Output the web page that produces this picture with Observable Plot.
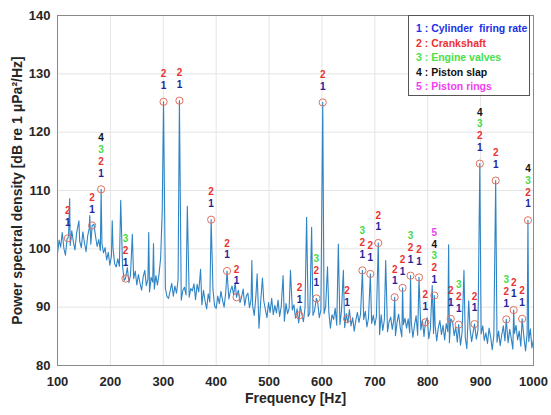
<!DOCTYPE html>
<html>
<head>
<meta charset="utf-8">
<script src="https://cdn.jsdelivr.net/npm/d3@7"></script>
<script src="https://cdn.jsdelivr.net/npm/@observablehq/plot@0.6"></script>
<style>
  body { margin: 0; background: #fff; }
  #wrap { position: relative; width: 551px; height: 415px; font-family: "Liberation Sans", Arial, sans-serif; }
  #legend { position: absolute; left: 408px; top: 15px; width: 122px; height: 81px; border: 1px solid #555; background: #fff;
            font-weight: bold; font-size: 10.5px; line-height: 14.6px; padding: 5px 0 0 7px; box-sizing: border-box; white-space: pre; }
</style>
</head>
<body>
<div id="wrap"></div>
<script>
// ---- data ----
const freqStart = 100, freqStep = 3;
const psd = [
  99.2, 101.5, 100.3, 102.8, 100.1, 98.9, 101.7, 102.4, 100.6, 103.1,
  101.2, 99.8, 102.6, 104.1, 101.3, 100.2, 102.9, 101.0, 99.5, 102.2,
  103.5, 100.8, 101.9, 104.2, 102.1, 100.4, 101.6, 99.7, 100.9, 99.3,
  100.2, 98.1, 99.4, 97.2, 98.8, 100.1, 97.5, 96.9, 98.3, 97.0,
  95.8, 97.1, 94.6, 95.9, 96.8, 94.2, 95.5, 97.3, 94.9, 96.2,
  93.8, 95.6, 94.1, 92.9, 95.2, 96.3, 93.7, 94.8, 92.6, 95.1,
  94.3, 93.1, 95.4, 93.8, 95.7, 98.4, 106.5, 96.0, 93.2, 91.8,
  91.5, 92.8, 94.1, 91.9, 93.6, 92.4, 94.7, 93.0, 91.2, 92.9,
  93.4, 92.1, 94.5, 91.7, 93.2, 92.8, 94.0, 91.3, 93.9, 92.6,
  91.8, 90.4, 92.9, 91.1, 89.7, 92.3, 90.9, 91.6, 93.0, 90.2,
  89.8, 91.9, 90.6, 92.7, 91.2, 90.0, 92.4, 93.5, 91.4, 92.8,
  93.6, 92.1, 94.2, 91.5, 92.9, 90.8, 91.7, 93.1, 90.3, 91.9,
  92.4, 89.9, 91.3, 90.2, 88.6, 91.8, 89.5, 86.4, 90.7, 89.3,
  91.1, 89.6, 88.2, 90.8, 89.1, 91.5, 88.7, 90.3, 89.0, 91.2,
  88.4, 90.1, 89.3, 87.6, 90.6, 88.9, 89.8, 87.2, 89.5, 90.4,
  88.1, 89.7, 87.3, 90.2, 88.8, 87.5, 89.9, 91.2, 88.4, 89.0,
  90.3, 88.6, 89.4, 87.9, 90.8, 88.2, 89.5, 87.1, 88.9, 90.1,
  87.6, 89.2, 86.4, 88.7, 87.9, 89.8, 86.9, 88.3, 87.0, 89.4,
  88.0, 86.5, 88.9, 87.3, 89.6, 86.8, 88.2, 85.9, 87.7, 89.1,
  87.4, 88.8, 86.1, 87.9, 89.3, 86.6, 88.1, 85.4, 87.2, 88.6,
  86.9, 88.4, 87.2, 85.3, 88.7, 86.0, 87.8, 89.1, 85.8, 87.5,
  88.3, 86.2, 87.9, 85.1, 87.4, 88.8, 86.5, 84.9, 87.0, 88.1,
  86.4, 88.0, 85.6, 87.3, 84.8, 86.9, 88.5, 85.2, 87.6, 86.1,
  87.8, 85.0, 86.7, 88.2, 84.6, 86.3, 87.9, 85.5, 86.8, 84.2,
  86.5, 87.7, 85.3, 86.9, 84.4, 87.2, 85.8, 83.9, 86.4, 87.5,
  85.1, 86.6, 84.0, 86.2, 83.5, 85.7, 87.1, 84.8, 82.9, 85.9,
  86.3, 84.1, 85.8, 87.0, 84.5, 86.1, 83.6, 85.4, 86.8, 84.3,
  85.6, 83.8, 86.4, 84.9, 82.7, 85.2, 86.7, 84.0, 85.9, 83.4,
  85.3, 86.8, 84.2, 85.7, 83.9, 86.2, 84.6, 82.8, 85.5, 86.9,
  84.4, 85.9, 83.3, 86.1, 84.7, 82.5, 85.6, 84.1, 86.3, 83.0,
  84.5
];
// unlabelled spikes
const spikeFreq = [123, 140.5, 161, 203.5, 219.5, 241.5, 272.5, 281.5, 345.5, 370.5, 467.5, 477.5, 487.5, 526.5, 540.5, 571, 580.5, 610.5, 631, 640.5, 720.5, 808.5, 839.5, 868.5, 877.5];
const spikeDb   = [108.6, 104.8, 105.7, 104.8, 108.3, 102.5, 102.8, 100.9, 107.3, 96.5, 98.0, 95.7, 95.0, 95.4, 96.3, 105.4, 103.7, 96.9, 100.8, 96.3, 98.0, 93.7, 100.7, 96.3, 91.1];
// marked peaks
const peakFreq = [119.5, 165.5, 182.5, 228.5, 300.5, 330.5, 390.5, 420.5, 438.5, 557.5, 589.5, 601.5, 647.5, 676.5, 691.5, 706.5, 737.5, 752.5, 767.5, 783.5, 795.5, 812.5, 843.5, 858.5, 888.5, 898.5, 928.5, 948.5, 962.5, 978.5, 989.5];
const peakDb   = [101.8, 104.0, 110.2, 94.9, 125.2, 125.4, 105.0, 96.2, 91.7, 88.6, 91.5, 125.1, 88.0, 96.3, 95.7, 101.0, 91.7, 93.3, 95.4, 95.1, 87.4, 92.0, 88.0, 87.0, 87.1, 114.6, 111.7, 87.9, 89.5, 88.0, 104.9];
const peakLabels = ["12", "12", "1234", "123", "12", "12", "12", "12", "12", "12", "123", "12", "12", "123", "12", "12", "12", "12", "123", "12", "12", "12345", "12", "123", "12", "1234", "12", "123", "12", "12", "1234"];
const legendDigits = ["1", "2", "3", "4", "5"];
const legendNames = ["Cylinder  firing rate", "Crankshaft", "Engine valves", "Piston slap", "Piston rings"];
const xTicks = [100, 200, 300, 400, 500, 600, 700, 800, 900, 1000];
const yTicks = [80, 90, 100, 110, 120, 130, 140];

// ---- build ----
const digitColor = {"1": "#23239c", "2": "#ea3232", "3": "#48dc48", "4": "#111111", "5": "#ee3cee"};
const legendColor = {"1": "#2030e8", "2": "#f03030", "3": "#48e048", "4": "#111111", "5": "#f040f0"};

const spikes = spikeFreq.map((f, i) => ({f, v: spikeDb[i]}));
const peaks = peakFreq.map((f, i) => ({f, v: peakDb[i], lab: peakLabels[i]}));
const extra = spikes.concat(peaks.map(d => ({f: d.f, v: d.v})));
const grid = psd.map((v, i) => ({f: freqStart + freqStep * i, v}))
  .filter(d => !extra.some(e => Math.abs(e.f - d.f) < 1));
const series = grid.concat(extra).sort((a, b) => a.f - b.f);

const labels = [];
peaks.forEach(p => p.lab.split("").forEach((c, k) => labels.push({f: p.f, v: p.v, c, k, color: digitColor[c]})));

const textMarks = [0, 1, 2, 3, 4].map(k => Plot.text(labels.filter(d => d.k === k), {
  x: "f", y: "v", text: "c", fill: "color", dy: -(16 + 11.7 * k),
  fontSize: 10, fontWeight: "bold"
}));

const chart = Plot.plot({
  width: 551, height: 415,
  marginLeft: 57, marginRight: 18, marginTop: 15, marginBottom: 50,
  style: {fontFamily: "'Liberation Sans', Arial, sans-serif", fontSize: "13px", fontWeight: "bold", color: "#262626", background: "#fff"},
  x: {domain: [100, 1000], ticks: xTicks, tickSize: 0, tickPadding: 11, label: null, tickFormat: d => String(d)},
  y: {domain: [80, 140], ticks: yTicks, tickSize: 0, tickPadding: 7, label: null},
  color: {type: "identity"},
  marks: [
    Plot.ruleX(xTicks, {stroke: "#e4e4e4", strokeWidth: 1}),
    Plot.ruleY(yTicks, {stroke: "#e4e4e4", strokeWidth: 1}),
    Plot.line(series, {x: "f", y: "v", stroke: "#2f84c4", strokeWidth: 1.1}),
    Plot.dot(peaks, {x: "f", y: "v", r: 3.6, stroke: "#e2705f", strokeWidth: 1, fill: "none"}),
    ...textMarks,
    Plot.frame({stroke: "#8a8a8a"}),
    Plot.text(["Frequency [Hz]"], {frameAnchor: "bottom", lineAnchor: "middle", textAnchor: "middle", dy: 33, fontSize: 14, fontWeight: "bold", fill: "#262626"}),
    Plot.text(["Power spectral density [dB re 1 \u03bcPa\u00b2/Hz]"], {frameAnchor: "left", rotate: -90, textAnchor: "middle", lineAnchor: "middle", dx: -40, fontSize: 14, fontWeight: "bold", fill: "#262626"})
  ]
});
const wrap = document.getElementById("wrap");
wrap.appendChild(chart);

const legend = document.createElement("div");
legend.id = "legend";
legend.innerHTML = legendDigits.map((d, i) => `<div style="color:${legendColor[d]}">${d} : ${legendNames[i]}</div>`).join("");
wrap.appendChild(legend);
</script>
</body>
</html>
